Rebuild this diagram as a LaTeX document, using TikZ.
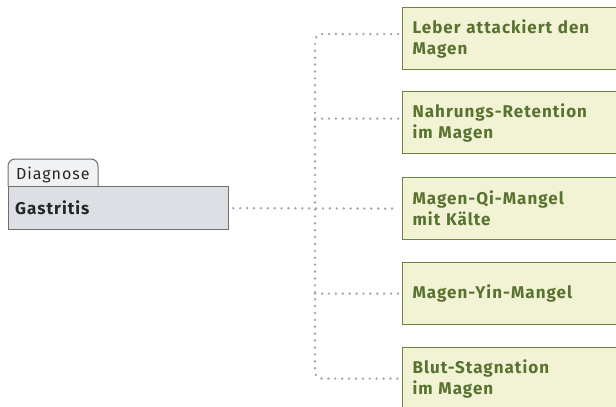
\documentclass[tikz,border=0pt]{standalone}
\usepackage{fontspec}
\setmainfont{Fira Sans}[LetterSpace=6]
\definecolor{gborder}{RGB}{108,132,62}
\definecolor{gtext}{RGB}{88,114,48}
\definecolor{gfill}{RGB}{242,242,212}
\definecolor{greyfill}{RGB}{220,223,228}
\definecolor{tabfill}{RGB}{241,242,243}
\definecolor{greyborder}{RGB}{110,110,110}
\definecolor{dotcol}{RGB}{160,166,182}
\tikzset{
  greenbox/.style={draw=gborder, line width=1.2pt, fill=gfill, anchor=north west,
    minimum width=218pt, minimum height=62pt, text width=198pt, inner xsep=10pt,
    align=left, text=gtext, font=\fontsize{17}{21}\selectfont\bfseries},
  dotline/.style={draw=dotcol, line width=2.7pt, line cap=round, dash pattern=on 0pt off 6.9pt},
}
\begin{document}
\begin{tikzpicture}[x=1pt,y=-1pt]
\useasboundingbox (0,0) rectangle (616,407);
\clip (0,0) rectangle (616,407);
% left boxes
\path[draw=greyborder, line width=1pt, fill=tabfill, rounded corners=7pt]
  (8,186) -- (8,159) -- (98,159) -- (98,186);
\node[anchor=base west, inner sep=0pt, font=\fontsize{16}{18}\selectfont, text=black!85] (diag) at (16,179) {Diagnose};
\node[draw=greyborder, line width=1.3pt, fill=greyfill, anchor=north west,
  minimum width=220pt, minimum height=43pt, inner sep=0pt] (gast) at (8,186) {};
\node[anchor=base west, inner sep=0pt, font=\fontsize{17}{18}\selectfont\bfseries, text=black!85] (gtxt) at (15,214) {Gastritis};
% right boxes
\node[greenbox] (b1) at (402,7) {Leber attackiert den\\Magen};
\node[greenbox] (b2) at (402,91) {Nahrungs-Retention\\im Magen};
\node[greenbox] (b3) at (402,177) {Magen-Qi-Mangel\\mit Kälte};
\node[greenbox] (b4) at (402,262) {Magen-Yin-Mangel};
\node[greenbox] (b5) at (402,347) {Blut-Stagnation\\im Magen};
% connectors
\coordinate (jc) at (315,209);
\draw[dotline, rounded corners=7pt] ([xshift=-4pt,yshift=4.5pt]b1.west) -| (jc) |- ([xshift=-4pt]b5.west);
\draw[dotline] ([xshift=-4pt,yshift=4pt]b2.west) -- ([yshift=4pt]b2.west -| jc);
\draw[dotline] ([xshift=-4pt]b4.west) -- (b4.west -| jc);
\draw[dotline] ([xshift=4pt]gast.east) -- ([xshift=-4pt]b3.west);
\end{tikzpicture}
\end{document}
